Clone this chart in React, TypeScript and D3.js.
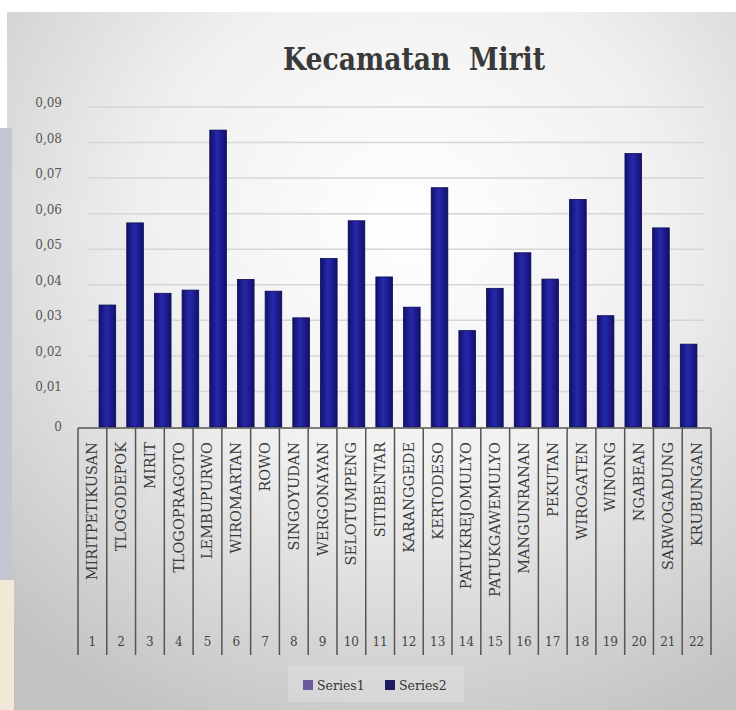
import * as d3 from 'd3';
import React from 'react';

// village names (data table row) and column numbers
const categories = [
    'MIRITPETIKUSAN', 'TLOGODEPOK', 'MIRIT', 'TLOGOPRAGOTO', 'LEMBUPURWO', 'WIROMARTAN',
    'ROWO', 'SINGOYUDAN', 'WERGONAYAN', 'SELOTUMPENG', 'SITIBENTAR', 'KARANGGEDE',
    'KERTODESO', 'PATUKREJOMULYO', 'PATUKGAWEMULYO', 'MANGUNRANAN', 'PEKUTAN', 'WIROGATEN',
    'WINONG', 'NGABEAN', 'SARWOGADUNG', 'KRUBUNGAN'
];
const columnNumbers = ['1', '2', '3', '4', '5', '6', '7', '8', '9', '10', '11', '12', '13', '14', '15', '16', '17', '18', '19', '20', '21', '22'];
const series2 = [
    0.0343, 0.0574, 0.0376, 0.0385, 0.0835, 0.0415, 0.0382, 0.0307, 0.0474, 0.0580, 0.0422,
    0.0337, 0.0673, 0.0271, 0.0390, 0.0490, 0.0416, 0.0640, 0.0313, 0.0769, 0.0560, 0.0233
];
const yTicks = [0, 0.01, 0.02, 0.03, 0.04, 0.05, 0.06, 0.07, 0.08, 0.09];
const legendItems = ['Series1', 'Series2'];
const legendColors = ['#6b5a9e', '#1c1c5e'];

const W = 736, H = 710;
const tableTop = 428, tableBottom = 655;
const serif = '"DejaVu Serif", serif';

const App = () => {
    const y = d3.scaleLinear().domain([0, 0.09]).range([427, 107]);
    // bars and table columns are slightly offset in the (photographed) original
    const xBar = d3.scaleBand().domain(columnNumbers).range([88, 708]).padding(0.4);
    const xTab = d3.scaleBand().domain(columnNumbers).range([78, 711]);
    const fmt = (v: number) => v === 0 ? '0' : d3.format('.2f')(v).replace('.', ',');

    return <svg width={W} height={H} style={{ position: 'absolute', left: 0, top: 0 }}>
        <defs>
            <radialGradient id="bg" cx="0.55" cy="0.3" r="0.8">
                <stop offset="0" stopColor="#ffffff" />
                <stop offset="0.45" stopColor="#f0f0f0" />
                <stop offset="1" stopColor="#c2c2c2" />
            </radialGradient>
            <linearGradient id="bar" x1="0" x2="1" y1="0" y2="0">
                <stop offset="0" stopColor="#10106c" />
                <stop offset="0.45" stopColor="#2828ac" />
                <stop offset="1" stopColor="#10106c" />
            </linearGradient>
        </defs>
        <rect x={0} y={0} width={W} height={H} fill="#ffffff" />
        <rect x={7} y={12} width={W - 7} height={H - 12} fill="url(#bg)" />
        <rect x={0} y={128} width={12} height={452} fill="#c3c8d0" />
        <rect x={0} y={580} width={14} height={130} fill="#f1e8d8" />

        <text x={283} y={70} fontSize={31} fontWeight="bold" fill="#3a3a3a"
            fontFamily={serif} textLength={262} lengthAdjust="spacingAndGlyphs"
            style={{ whiteSpace: 'pre' }}>Kecamatan  Mirit</text>

        {yTicks.map(t => <g key={t}>
            {t > 0 && <line x1={88} x2={704} y1={y(t)} y2={y(t)} stroke="#d6d6d6" strokeWidth={1.5} />}
            <text x={62} y={y(t) - 4 + (t === 0 ? 4 : 0)} textAnchor="end" dominantBaseline="central"
                fontSize={12} fill="#555" fontFamily={serif}>{fmt(t)}</text>
        </g>)}

        {series2.map((v, i) => <rect key={i}
            x={xBar(columnNumbers[i]) as number} y={y(v)}
            width={xBar.bandwidth()} height={y(0) - y(v)}
            fill="url(#bar)" stroke="#0a0a50" strokeWidth={0.8} />)}

        {/* data table */}
        <line x1={78} x2={711} y1={tableTop} y2={tableTop} stroke="#555" strokeWidth={1.5} />
        {columnNumbers.map((c, i) => {
            const x0 = xTab(c) as number;
            const cx = x0 + xTab.bandwidth() / 2;
            return <g key={c}>
                <line x1={x0} x2={x0} y1={tableTop} y2={tableBottom} stroke="#555" strokeWidth={1.5} />
                <text transform={`translate(${cx},442) rotate(-90)`} textAnchor="end"
                    dominantBaseline="central" fontSize={14.5} fill="#3a3a3a" fontFamily={serif}>{categories[i]}</text>
                <text x={cx} y={646} textAnchor="middle" fontSize={12} fill="#444" fontFamily={serif}>{c}</text>
            </g>;
        })}
        <line x1={711} x2={711} y1={tableTop} y2={tableBottom} stroke="#555" strokeWidth={1.5} />

        {/* legend */}
        <rect x={288} y={666} width={176} height={36} fill="#e8e8e8" opacity={0.35} />
        {legendItems.map((s, i) => <g key={s} transform={`translate(${303 + i * 82},680)`}>
            <rect x={0} y={0} width={10} height={10} fill={legendColors[i]} />
            <text x={14} y={5} dominantBaseline="central" fontSize={12.5} fill="#333" fontFamily={serif}>{s}</text>
        </g>)}
    </svg>;
}
export default App;
